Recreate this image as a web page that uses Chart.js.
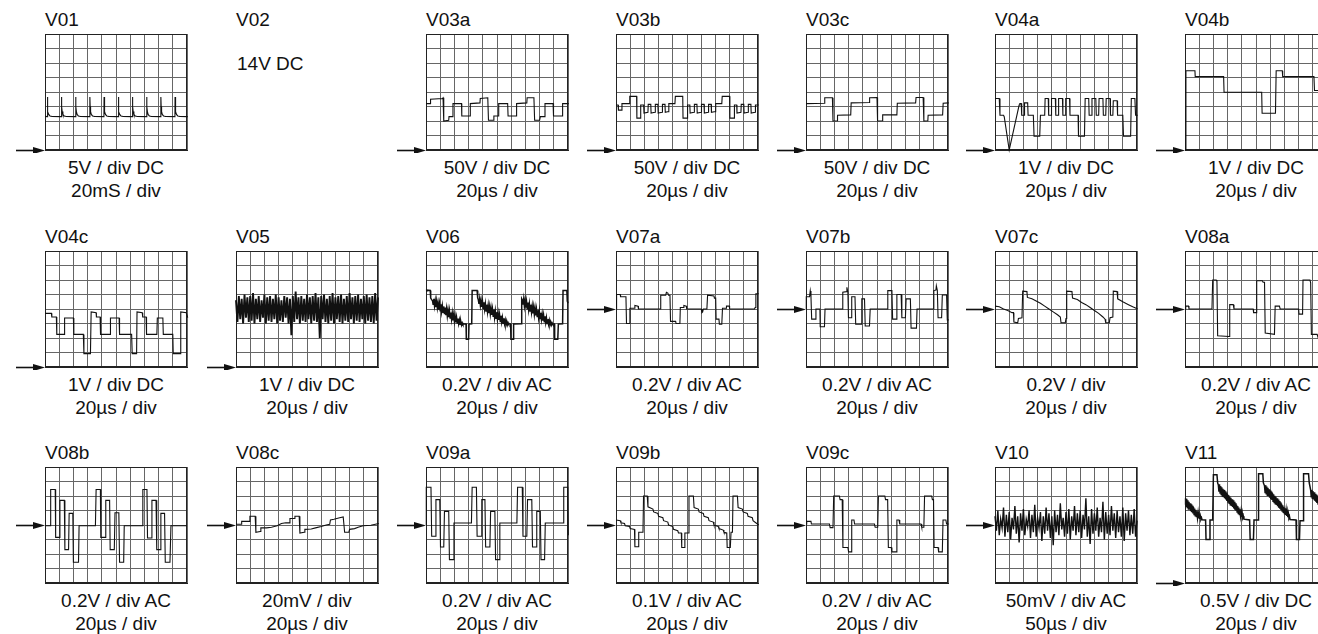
<!DOCTYPE html>
<html><head><meta charset="utf-8">
<script src="https://cdn.jsdelivr.net/npm/chart.js@4.4.1/dist/chart.umd.min.js"></script>
<style>
html,body{margin:0;padding:0;background:#fff}
body{width:1318px;height:634px;overflow:hidden;position:relative;font-family:"Liberation Sans",Arial,Helvetica,sans-serif;color:#111}
canvas{position:absolute}
.t{position:absolute;font-size:19px;line-height:19px;white-space:nowrap}
.c{position:absolute;font-size:19px;line-height:19px;white-space:nowrap;width:240px;text-align:center}
</style></head><body>
<script>
// ---------------- DATA (division units: x 0..10, y 0..8 from bottom) ----------------
const panelNames = ['V01','V02','V03a','V03b','V03c','V04a','V04b',
                    'V04c','V05','V06','V07a','V07b','V07c','V08a',
                    'V08b','V08c','V09a','V09b','V09c','V10','V11'];
const voltLabels = ['5V / div DC','14V DC','50V / div DC','50V / div DC','50V / div DC','1V / div DC','1V / div DC',
                    '1V / div DC','1V / div DC','0.2V / div AC','0.2V / div AC','0.2V / div AC','0.2V / div','0.2V / div AC',
                    '0.2V / div AC','20mV / div','0.2V / div AC','0.1V / div AC','0.2V / div AC','50mV / div AC','0.5V / div DC'];
const timeLabels = ['20mS / div','','20µs / div','20µs / div','20µs / div','20µs / div','20µs / div',
                    '20µs / div','20µs / div','20µs / div','20µs / div','20µs / div','20µs / div','20µs / div',
                    '20µs / div','20µs / div','20µs / div','20µs / div','20µs / div','50µs / div','20µs / div'];
// ground-arrow level in divisions (-1 = no arrow)
const groundLevels = [0,-1,0,0,0,0,0,
                      0,0,-1,4,4,4,4,
                      4,4,4,4,4,4,0];

const V01 = [[0,2.32],[0.15,2.3],[0.16,3.65],[0.18,3.0],[0.21,2.65],[0.26,2.45],[0.35,2.35],[0.5,2.31],
[1.15,2.3],[1.16,3.65],[1.18,3.0],[1.21,2.65],[1.26,2.45],[1.35,2.35],[1.5,2.31],
[2.15,2.3],[2.16,3.65],[2.18,3.0],[2.21,2.65],[2.26,2.45],[2.35,2.35],[2.5,2.31],
[3.15,2.3],[3.16,3.65],[3.18,3.0],[3.21,2.65],[3.26,2.45],[3.35,2.35],[3.5,2.31],
[4.15,2.3],[4.16,3.65],[4.18,3.0],[4.21,2.65],[4.26,2.45],[4.35,2.35],[4.5,2.31],
[5.15,2.3],[5.16,3.65],[5.18,3.0],[5.21,2.65],[5.26,2.45],[5.35,2.35],[5.5,2.31],
[6.15,2.3],[6.16,3.65],[6.18,3.0],[6.21,2.65],[6.26,2.45],[6.35,2.35],[6.5,2.31],
[7.15,2.3],[7.16,3.65],[7.18,3.0],[7.21,2.65],[7.26,2.45],[7.35,2.35],[7.5,2.31],
[8.15,2.3],[8.16,3.65],[8.18,3.0],[8.21,2.65],[8.26,2.45],[8.35,2.35],[8.5,2.31],
[9.15,2.3],[9.16,3.65],[9.18,3.0],[9.21,2.65],[9.26,2.45],[9.35,2.35],[9.5,2.31],
[10.05,2.3],[10.07,3.6]];

const V03a = [[0,3.2],[0.3,3.2],[0.32,3.5],[1.15,3.55],[1.2,3.6],[1.25,2.0],[1.6,2.05],[1.62,2.3],[1.88,2.3],[1.9,3.2],[2.5,3.2],[2.52,2.35],[3.1,2.35],[3.12,3.2],[3.8,3.25],[3.82,3.55],[4.35,3.6],[4.4,2.05],[4.75,2.05],[4.78,2.35],[5.1,2.35],[5.12,3.2],[5.75,3.2],[5.78,2.35],[6.35,2.35],[6.38,3.2],[7.1,3.25],[7.12,3.6],[7.6,3.6],[7.65,2.05],[8.0,2.05],[8.05,2.3],[8.35,2.3],[8.38,3.2],[8.95,3.2],[8.98,2.35],[9.6,2.35],[9.62,3.2],[10.05,3.2]];

const V03b = [[0,3.1],[0.15,3.1],[0.17,2.75],[0.4,2.75],[0.42,3.2],[0.95,3.2],[0.97,3.7],[1.45,3.7],[1.47,2.2],[1.72,2.2],[1.74,3.1],[1.95,3.1],[1.97,2.55],[2.25,2.6],[2.27,3.15],[2.45,3.15],[2.47,2.55],[2.75,2.6],[2.77,3.15],[2.95,3.15],[2.97,2.55],[3.25,2.6],[3.27,3.15],[3.45,3.15],[3.47,2.6],[3.7,2.65],[3.72,3.2],[4.15,3.2],[4.18,3.7],[4.7,3.7],[4.72,2.2],[5.02,2.2],[5.04,3.1],[5.2,3.1],[5.22,2.55],[5.5,2.6],[5.52,3.15],[5.7,3.15],[5.72,2.55],[6.0,2.6],[6.02,3.15],[6.2,3.15],[6.22,2.55],[6.5,2.6],[6.52,3.15],[6.7,3.15],[6.72,2.6],[7.0,2.65],[7.02,3.2],[7.45,3.2],[7.48,3.7],[8.0,3.7],[8.02,2.2],[8.32,2.2],[8.34,3.1],[8.5,3.1],[8.52,2.55],[8.8,2.6],[8.82,3.15],[9.0,3.15],[9.02,2.55],[9.3,2.6],[9.32,3.15],[9.5,3.15],[9.52,2.55],[9.8,2.6],[9.82,3.1],[10.05,3.1]];

const V03c = [[0,3.2],[1.3,3.22],[1.32,3.6],[1.86,3.6],[1.9,2.0],[2.2,2.02],[2.22,2.4],[3.15,2.42],[3.18,3.25],[4.45,3.28],[4.48,3.6],[5.0,3.62],[5.04,2.0],[5.38,2.02],[5.4,2.42],[6.4,2.42],[6.43,3.22],[7.72,3.25],[7.75,3.62],[8.25,3.62],[8.3,2.0],[8.58,2.02],[8.6,2.4],[9.62,2.42],[9.66,3.22],[10.05,3.25]];

const V04a = [[0,3.55],[0.3,3.55],[0.35,2.4],[0.6,2.4],[0.65,2.3],[1.0,0.0],[1.7,3.1],[1.75,3.2],[1.85,3.2],[1.88,2.4],[2.05,2.4],[2.08,3.25],[2.3,3.25],[2.33,2.4],[2.7,2.4],[2.75,0.95],[3.15,0.95],[3.2,2.4],[3.5,2.4],[3.53,3.55],[3.75,3.55],[3.78,2.4],[3.95,2.4],[3.98,3.55],[4.25,3.55],[4.28,2.4],[4.45,2.4],[4.48,3.55],[4.75,3.55],[4.78,2.4],[4.95,2.4],[4.98,3.55],[5.25,3.55],[5.28,2.4],[5.85,2.4],[5.88,0.95],[6.3,0.95],[6.35,3.55],[6.6,3.55],[6.63,2.4],[6.8,2.4],[6.83,3.55],[7.1,3.55],[7.13,2.4],[7.3,2.4],[7.33,3.55],[7.6,3.55],[7.63,2.4],[7.8,2.4],[7.83,3.55],[8.1,3.55],[8.13,2.4],[8.3,2.4],[8.33,3.4],[8.6,3.4],[8.63,2.4],[9.0,2.4],[9.05,0.95],[9.55,0.95],[9.6,3.55],[9.85,3.55],[9.9,2.4],[10.05,2.4]];

const V04b = [[0,0],[0.06,0],[0.07,5.47],[0.7,5.47],[0.72,5.06],[2.72,5.06],[2.75,3.98],[5.4,3.98],[5.43,2.53],[6.37,2.53],[6.42,5.47],[6.85,5.47],[6.88,5.06],[9.08,5.06],[9.12,4.1],[10,4.1]];

const V04c = [[0,3.7],[0.45,3.7],[0.48,3.45],[0.8,3.45],[0.83,2.25],[1.35,2.25],[1.38,3.38],[2.0,3.38],[2.03,2.25],[2.7,2.25],[2.74,0.92],[3.2,0.92],[3.25,3.8],[3.6,3.75],[3.62,3.45],[3.88,3.45],[3.91,2.25],[4.58,2.25],[4.61,3.38],[5.22,3.38],[5.25,2.25],[6.1,2.25],[6.14,0.92],[6.45,0.92],[6.48,3.8],[6.85,3.75],[6.88,3.45],[7.12,3.45],[7.15,2.25],[7.88,2.25],[7.91,3.38],[8.3,3.38],[8.33,2.25],[9.0,2.25],[9.03,0.92],[9.52,0.92],[9.56,3.8],[9.95,3.75],[10.05,3.4]];

// V05: noise band, one value per 0.1 division
const V05 = [4.6,3.1,4.9,3.3,4.7,3.0,5.0,3.4,4.8,3.1,
 4.9,3.2,5.1,3.0,4.7,3.3,4.9,3.1,4.6,3.4,
 5.0,3.0,4.8,3.2,4.9,3.1,4.7,3.3,5.0,3.0,
 4.8,3.2,4.6,3.1,4.9,3.4,4.8,3.0,4.7,2.2,
 4.9,3.1,5.2,3.3,4.8,3.0,4.9,3.2,4.7,3.1,
 5.0,3.3,4.8,3.0,4.9,3.2,5.1,3.1,4.8,2.0,
 4.9,3.3,5.0,3.1,4.7,3.0,4.9,3.2,5.1,3.0,
 4.8,3.3,4.9,3.1,5.0,3.0,4.7,3.2,4.9,3.1,
 5.1,3.3,4.8,3.0,4.9,3.2,5.0,3.1,4.7,3.3,
 4.9,3.0,5.0,3.2,4.8,3.1,4.9,3.0,5.1,3.2,4.8];

const V06 = [[0,5.25],[0.05,5.3],[0.3,5.28],[0.33,4.75],[0.43,4.6],
[0.45,4.62],[0.5,4.32],[0.55,4.7],[0.6,4.22],[0.65,4.58],[0.7,4.12],[0.75,4.55],[0.8,4.08],[0.85,4.42],[0.9,3.96],[0.95,4.38],[1.0,3.88],[1.05,4.33],[1.1,3.82],[1.15,4.22],[1.2,3.78],[1.25,4.18],[1.3,3.64],[1.35,4.1],[1.4,3.58],[1.45,4.02],[1.5,3.52],[1.55,3.93],[1.6,3.44],[1.65,3.88],[1.7,3.38],[1.75,3.76],[1.8,3.3],[1.85,3.72],[1.9,3.22],[1.95,3.6],[2.0,3.16],[2.05,3.52],[2.1,3.08],[2.15,3.44],[2.2,3.04],[2.25,3.34],[2.3,2.98],[2.35,3.25],[2.4,2.94],[2.45,3.14],[2.5,2.9],[2.55,3.05],[2.6,2.94],
[2.62,2.96],[2.82,2.96],[2.84,1.92],[3.0,1.92],[3.03,2.96],[3.22,2.98],[3.25,5.27],[3.6,5.27],[3.64,4.76],
[3.68,4.66],[3.73,4.35],[3.78,4.72],[3.83,4.25],[3.88,4.6],[3.93,4.14],[3.98,4.52],[4.03,4.04],[4.08,4.46],[4.13,3.98],[4.18,4.36],[4.23,3.86],[4.28,4.3],[4.33,3.8],[4.38,4.24],[4.43,3.72],[4.48,4.16],[4.53,3.66],[4.58,4.08],[4.63,3.6],[4.68,4.0],[4.73,3.5],[4.78,3.96],[4.83,3.42],[4.88,3.86],[4.93,3.36],[4.98,3.78],[5.03,3.3],[5.08,3.7],[5.13,3.24],[5.18,3.62],[5.23,3.14],[5.28,3.54],[5.33,3.1],[5.38,3.42],[5.43,3.02],[5.48,3.36],[5.53,2.98],[5.58,3.24],[5.63,2.92],[5.68,3.16],[5.73,2.9],[5.78,3.06],[5.83,2.95],
[5.87,2.96],[5.96,2.96],[5.98,1.92],[6.14,1.92],[6.17,2.96],[6.7,2.98],[6.74,4.7],
[6.78,4.62],[6.83,4.3],[6.88,4.7],[6.93,4.2],[6.98,4.6],[7.03,4.1],[7.08,4.52],[7.13,4.02],[7.18,4.44],[7.23,3.94],[7.28,4.36],[7.33,3.86],[7.38,4.3],[7.43,3.78],[7.48,4.2],[7.53,3.7],[7.58,4.14],[7.63,3.62],[7.68,4.06],[7.73,3.56],[7.78,3.98],[7.83,3.48],[7.88,3.92],[7.93,3.4],[7.98,3.84],[8.03,3.34],[8.08,3.74],[8.13,3.28],[8.18,3.66],[8.23,3.2],[8.28,3.58],[8.33,3.12],[8.38,3.5],[8.43,3.06],[8.48,3.4],[8.53,3.0],[8.58,3.3],[8.63,2.96],[8.68,3.22],[8.73,2.92],[8.78,3.12],[8.83,2.9],[8.88,3.04],[8.93,2.95],
[8.97,2.96],[9.04,2.96],[9.06,1.92],[9.28,1.92],[9.32,2.96],[9.62,2.98],[9.65,5.27],[9.92,5.27],[9.95,4.55],[10.0,4.4],[10.03,4.8],[10.05,4.3]];

const V07a = [[0,4.0],[0.04,5.0],[0.3,5.0],[0.32,4.85],[0.7,4.85],[0.74,3.0],[0.95,3.0],[0.98,4.05],[1.3,4.05],[1.33,4.25],[1.55,4.2],[1.58,4.0],[3.1,4.0],[3.15,4.95],[3.5,4.95],[3.55,5.15],[3.65,5.1],[3.7,4.95],[3.8,4.95],[3.84,3.15],[4.2,3.15],[4.23,3.0],[4.5,3.0],[4.53,4.1],[4.75,4.1],[4.78,4.25],[4.95,4.2],[4.98,4.0],[6.0,4.0],[6.05,3.75],[6.1,3.8],[6.15,4.0],[6.4,4.0],[6.45,4.95],[6.9,4.9],[6.93,4.75],[7.02,4.75],[7.05,3.3],[7.25,3.3],[7.28,2.95],[7.45,2.95],[7.5,4.05],[7.75,4.05],[7.78,4.2],[7.98,4.2],[8.0,4.0],[9.75,4.0],[9.8,4.1],[9.85,5.05],[10.05,5.05]];

const V07b = [[0,4.0],[0.02,4.85],[0.25,4.85],[0.3,5.25],[0.35,4.85],[0.4,3.3],[0.65,3.3],[0.7,4.0],[0.98,4.0],[1.0,2.78],[1.3,2.78],[1.34,4.0],[2.55,4.0],[2.59,5.15],[2.85,5.2],[2.88,5.5],[2.95,5.15],[2.99,3.4],[3.18,3.4],[3.22,4.85],[3.45,4.85],[3.5,2.95],[3.88,2.95],[3.93,4.7],[4.12,4.7],[4.17,2.83],[4.47,2.83],[4.52,4.0],[5.72,4.0],[5.76,5.27],[6.05,5.27],[6.1,3.3],[6.35,3.3],[6.4,5.0],[6.7,5.0],[6.75,3.4],[7.0,3.4],[7.05,4.7],[7.35,4.7],[7.4,2.68],[7.78,2.68],[7.82,4.0],[8.95,4.0],[9.0,5.27],[9.15,5.3],[9.18,5.6],[9.25,5.27],[9.3,3.4],[9.55,3.4],[9.6,4.97],[9.9,4.97],[9.95,3.25],[10.05,3.25]];

const V07c = [[0,4.2],[0.3,4.15],[0.6,4.0],[0.9,3.9],[1.2,3.75],[1.3,3.75],[1.33,3.1],[1.6,3.05],[1.65,3.35],[1.9,3.4],[1.95,5.23],[2.25,5.2],[2.28,4.8],[2.6,4.7],[2.9,4.55],[3.2,4.4],[3.5,4.2],[3.8,4.0],[4.1,3.8],[4.4,3.6],[4.6,3.45],[4.65,3.05],[4.95,3.05],[5.0,3.35],[5.05,5.23],[5.42,5.2],[5.46,4.76],[5.8,4.65],[6.1,4.45],[6.4,4.3],[6.7,4.1],[7.0,3.9],[7.3,3.7],[7.6,3.45],[7.75,3.3],[7.8,3.05],[8.05,3.05],[8.1,3.4],[8.3,3.45],[8.33,5.23],[8.6,5.2],[8.64,4.7],[9.0,4.5],[9.4,4.3],[9.7,4.15],[10.05,4.0]];

const V08a = [[0,4.0],[0.05,4.2],[0.25,4.2],[0.28,4.0],[1.9,4.0],[1.95,6.0],[2.2,6.0],[2.25,5.9],[2.3,2.15],[3.1,2.1],[3.15,4.3],[3.4,4.3],[3.45,4.0],[4.8,4.0],[4.83,3.75],[5.0,3.75],[5.05,5.95],[5.45,5.95],[5.5,5.85],[5.6,5.85],[5.65,2.35],[6.3,2.25],[6.35,4.2],[6.65,4.2],[6.7,4.0],[8.0,4.0],[8.03,3.65],[8.28,3.65],[8.31,6.0],[8.8,6.0],[8.85,5.8],[8.9,2.25],[9.3,2.25],[9.35,2.1],[10,2.1]];

const V08b = [[0,3.95],[0.37,3.95],[0.4,6.45],[0.72,6.45],[0.75,3.15],[1.02,3.15],[1.05,5.7],[1.36,5.7],[1.4,2.3],[1.66,2.3],[1.7,4.8],[1.96,4.8],[2.0,1.43],[2.36,1.43],[2.4,3.95],[3.55,3.95],[3.6,6.45],[3.9,6.45],[3.93,3.15],[4.25,3.15],[4.28,5.7],[4.55,5.7],[4.59,2.3],[4.88,2.3],[4.93,4.85],[5.2,4.85],[5.25,1.43],[5.54,1.43],[5.58,3.95],[6.85,3.95],[6.89,6.45],[7.18,6.45],[7.22,3.1],[7.5,3.1],[7.53,5.7],[7.82,5.7],[7.87,2.3],[8.12,2.3],[8.16,4.8],[8.42,4.8],[8.47,1.43],[8.8,1.43],[8.87,3.95],[10,3.95],[10.05,6.5]];

const V08c = [[0,4.05],[0.38,4.05],[0.4,4.25],[0.95,4.25],[0.98,4.6],[1.35,4.6],[1.4,3.5],[1.7,3.55],[1.75,3.8],[2.15,3.8],[2.5,3.85],[2.9,3.95],[3.2,4.1],[3.5,4.15],[3.75,4.15],[3.8,4.45],[4.1,4.45],[4.15,4.6],[4.45,4.6],[4.5,3.45],[4.8,3.5],[4.85,3.7],[5.3,3.72],[5.6,3.8],[6.0,3.9],[6.35,4.0],[6.6,4.05],[6.65,4.35],[6.9,4.4],[7.3,4.5],[7.55,4.55],[7.65,3.5],[7.95,3.5],[8.0,3.7],[8.35,3.75],[8.6,3.85],[8.95,3.95],[9.5,3.98],[10.05,4.1]];

const V09a = [[0,4.0],[0.02,6.6],[0.35,6.6],[0.4,3.22],[0.66,3.22],[0.7,5.75],[0.97,5.75],[1.02,2.48],[1.25,2.48],[1.3,4.94],[1.6,4.94],[1.65,1.61],[1.92,1.61],[1.97,4.14],[3.2,4.14],[3.25,6.6],[3.55,6.6],[3.6,3.22],[3.88,3.22],[3.93,5.75],[4.15,5.75],[4.2,2.48],[4.5,2.48],[4.55,4.94],[4.85,4.94],[4.9,1.61],[5.15,1.61],[5.2,4.14],[6.4,4.14],[6.45,6.6],[6.78,6.6],[6.83,3.22],[7.1,3.22],[7.15,5.75],[7.45,5.75],[7.5,2.48],[7.75,2.48],[7.8,4.94],[8.05,4.94],[8.1,1.61],[8.35,1.61],[8.4,4.14],[9.65,4.14],[9.7,6.6],[9.98,6.6],[10.02,3.3]];

const V09b = [[0,4.35],[0.3,4.3],[0.35,4.15],[0.6,4.1],[0.65,3.95],[0.95,3.9],[1.0,3.75],[1.3,3.7],[1.33,2.5],[1.55,2.5],[1.6,3.5],[1.9,3.5],[1.94,6.0],[2.2,6.0],[2.25,5.25],[2.6,5.1],[2.65,4.9],[2.95,4.8],[3.0,4.6],[3.3,4.5],[3.35,4.3],[3.65,4.2],[3.7,4.0],[4.0,3.9],[4.05,3.7],[4.35,3.6],[4.4,3.45],[4.6,3.45],[4.63,2.45],[4.8,2.45],[4.85,3.45],[5.1,3.45],[5.14,6.0],[5.45,6.0],[5.5,5.2],[5.8,5.1],[5.85,4.9],[6.15,4.8],[6.2,4.6],[6.5,4.5],[6.55,4.3],[6.85,4.2],[6.9,4.0],[7.2,3.9],[7.25,3.75],[7.55,3.65],[7.6,3.5],[7.8,3.45],[7.83,2.45],[8.05,2.45],[8.1,3.5],[8.2,3.5],[8.24,6.0],[8.55,6.0],[8.6,5.2],[8.9,5.1],[8.95,4.9],[9.25,4.8],[9.3,4.6],[9.6,4.5],[9.65,4.3],[10.05,4.0]];

const V09c = [[0,4.07],[0.05,4.25],[0.35,4.25],[0.38,4.07],[1.65,4.07],[1.7,3.82],[1.9,3.82],[1.95,6.0],[2.35,6.0],[2.4,5.75],[2.55,5.75],[2.6,2.45],[2.95,2.45],[3.0,2.15],[3.18,2.15],[3.22,4.35],[3.38,4.35],[3.42,4.07],[4.82,4.07],[4.87,3.84],[5.05,3.84],[5.1,6.0],[5.55,6.0],[5.6,5.75],[5.75,5.75],[5.8,2.45],[6.0,2.45],[6.05,2.15],[6.35,2.15],[6.4,4.35],[6.55,4.35],[6.6,4.07],[8.1,4.07],[8.15,3.84],[8.3,3.84],[8.35,6.0],[8.85,6.0],[8.9,5.75],[8.98,5.75],[9.02,2.45],[9.3,2.45],[9.34,2.15],[9.6,2.15],[9.65,4.35],[9.85,4.35],[9.9,4.07],[10.05,4.07]];

// V10: noise, one value per 0.1 division
const V10 = [4.6,3.6,5.0,3.3,4.4,3.8,5.2,3.2,4.7,3.5,
 4.9,3.0,4.5,3.7,5.3,3.4,4.6,2.8,4.8,3.6,
 5.1,3.3,4.4,3.9,5.0,3.1,4.7,3.5,5.4,3.2,
 4.5,3.8,4.9,2.9,4.6,3.4,5.2,3.6,4.8,3.1,
 4.6,2.6,5.0,3.5,4.7,3.3,5.5,3.7,4.5,3.2,
 4.9,3.4,5.1,3.0,4.6,3.6,5.3,3.3,4.8,3.5,
 5.0,3.1,4.7,3.7,5.85,3.2,4.6,2.7,5.1,3.4,
 4.8,3.6,5.2,3.2,4.5,3.5,5.6,3.0,4.9,3.4,
 4.7,3.3,5.3,3.6,4.8,3.1,5.0,3.5,4.6,3.2,
 5.2,2.9,4.8,3.6,5.0,3.3,4.7,3.4,5.1,3.2,4.3];

const V11 = [[0,5.4],[0.04,5.85],[0.08,5.3],[0.12,5.8],[0.16,5.2],[0.2,5.7],[0.24,5.1],[0.28,5.6],[0.32,5.05],[0.36,5.5],[0.4,4.95],[0.44,5.42],[0.48,4.88],[0.52,5.32],[0.56,4.8],[0.6,5.24],[0.64,4.72],[0.68,5.14],[0.72,4.64],[0.76,5.04],[0.8,4.58],[0.84,4.94],[0.88,4.5],[0.92,4.84],[0.96,4.46],[1.0,4.74],[1.04,4.42],[1.08,4.62],[1.12,4.4],[1.16,4.5],[1.2,4.36],
[1.45,4.35],[1.48,3.0],[1.72,3.0],[1.76,4.35],[1.95,4.35],[2.0,7.47],[2.25,7.47],[2.3,6.9],
[2.35,6.75],[2.39,6.3],[2.43,6.8],[2.47,6.2],[2.51,6.68],[2.55,6.1],[2.59,6.6],[2.63,6.0],[2.67,6.5],[2.71,5.92],[2.75,6.42],[2.79,5.84],[2.83,6.32],[2.87,5.76],[2.91,6.24],[2.95,5.66],[2.99,6.14],[3.03,5.58],[3.07,6.06],[3.11,5.5],[3.15,5.96],[3.19,5.4],[3.23,5.88],[3.27,5.32],[3.31,5.78],[3.35,5.24],[3.39,5.7],[3.43,5.14],[3.47,5.6],[3.51,5.06],[3.55,5.5],[3.59,4.98],[3.63,5.4],[3.67,4.9],[3.71,5.3],[3.75,4.8],[3.79,5.2],[3.83,4.72],[3.87,5.08],[3.91,4.64],[3.95,4.96],[3.99,4.56],[4.03,4.82],[4.07,4.5],[4.11,4.6],
[4.15,4.4],[4.55,4.35],[4.59,3.0],[4.82,3.0],[4.86,4.35],[5.15,4.35],[5.18,7.54],[5.48,7.54],[5.52,6.9],
[5.6,6.7],[5.64,6.25],[5.68,6.75],[5.72,6.15],[5.76,6.66],[5.8,6.06],[5.84,6.56],[5.88,5.98],[5.92,6.46],[5.96,5.88],[6.0,6.38],[6.04,5.8],[6.08,6.3],[6.12,5.72],[6.16,6.2],[6.2,5.64],[6.24,6.12],[6.28,5.56],[6.32,6.02],[6.36,5.46],[6.4,5.94],[6.44,5.38],[6.48,5.84],[6.52,5.3],[6.56,5.76],[6.6,5.2],[6.64,5.66],[6.68,5.12],[6.72,5.56],[6.76,5.04],[6.8,5.46],[6.84,4.96],[6.88,5.36],[6.92,4.88],[6.96,5.26],[7.0,4.8],[7.04,5.16],[7.08,4.7],[7.12,5.04],[7.16,4.62],[7.2,4.92],[7.24,4.54],[7.28,4.78],[7.32,4.48],[7.36,4.58],
[7.4,4.38],[7.82,4.35],[7.85,3.0],[8.06,3.0],[8.1,4.3],[8.32,4.3],[8.35,7.54],[8.7,7.54],[8.75,6.9],
[8.85,6.4],[8.89,5.95],[8.93,6.42],[8.97,5.85],[9.01,6.34],[9.05,5.76],[9.09,6.26],[9.13,5.68],[9.17,6.16],[9.21,5.6],[9.25,6.08],[9.29,5.52],[9.33,5.98],[9.37,5.44],[9.41,5.9],[9.45,5.36],[9.5,5.8],[9.55,5.3],[9.6,5.7]];

const traces = [V01,null,V03a,V03b,V03c,V04a,V04b,
                V04c,V05,V06,V07a,V07b,V07c,V08a,
                V08b,V08c,V09a,V09b,V09c,V10,V11];
const noisy = [false,false,false,false,false,false,false,
               false,true,false,false,false,false,false,
               false,false,false,false,false,true,false];

// ---------------- LAYOUT & STYLE ----------------
const colX = [45,236,426,616,806,995,1185];
const rowY = [34,251,467];
const PW = 142, PH = 116;
const PAD = {left:34, right:6, top:3, bottom:3};
const traceWidths = [1.1,1,1.1,1.1,1.1,1.1,1.1,
                     1.1,1.9,1.5,1.1,1.1,1.1,1.1,
                     1.1,1.1,1.1,1.1,1.1,1.4,1.5];

const groundArrow = {
  id: 'groundArrow',
  beforeDatasetsDraw(chart) {
    const a = chart.chartArea, ctx = chart.ctx;
    ctx.save();
    ctx.strokeStyle = '#222'; ctx.lineWidth = 1;
    ctx.strokeRect(a.left + 0.5, a.top + 0.5, a.right - a.left - 1, a.bottom - a.top - 1);
    ctx.restore();
  },
  afterDraw(chart, args, opts) {
    if (opts.level < 0) return;
    const ctx = chart.ctx, a = chart.chartArea;
    const y = Math.round(chart.scales.y.getPixelForValue(opts.level)) + 0.5;
    const x1 = a.left;
    ctx.save();
    ctx.strokeStyle = '#111'; ctx.fillStyle = '#111'; ctx.lineWidth = 1.6;
    ctx.beginPath(); ctx.moveTo(x1 - 29, y); ctx.lineTo(x1 - 9, y); ctx.stroke();
    ctx.beginPath(); ctx.moveTo(x1, y); ctx.lineTo(x1 - 12, y - 3.6); ctx.lineTo(x1 - 12, y + 3.6); ctx.closePath(); ctx.fill();
    ctx.restore();
  }
};

function addText(cls, txt, left, top) {
  const d = document.createElement('div');
  d.className = cls; d.textContent = txt;
  d.style.left = left + 'px'; d.style.top = top + 'px';
  document.body.appendChild(d);
}

panelNames.forEach((name, i) => {
  const r = Math.floor(i / 7), c = i % 7;
  const px = colX[c], py = rowY[r];
  addText('t', name, px, py - 24);
  if (!traces[i]) {
    addText('t', voltLabels[i], px + 1, py + 20);
    return;
  }
  addText('c', voltLabels[i], px + PW / 2 - 120, py + PH + 8);
  addText('c', timeLabels[i], px + PW / 2 - 120, py + PH + 31);

  const cv = document.createElement('canvas');
  cv.width = PW + PAD.left + PAD.right;
  cv.height = PH + PAD.top + PAD.bottom;
  cv.style.left = (px - PAD.left) + 'px';
  cv.style.top = (py - PAD.top) + 'px';
  document.body.appendChild(cv);

  const pts = noisy[i]
    ? traces[i].map((v, k) => ({x: k / 10, y: v}))
    : traces[i].map(p => ({x: p[0], y: p[1]}));

  const axis = (max) => ({
    type: 'linear', min: 0, max: max,
    ticks: {display: false, stepSize: 1},
    grid: {color: '#666', lineWidth: 1, drawTicks: false},
    border: {display: true, color: '#222'}
  });

  new Chart(cv, {
    type: 'line',
    data: {datasets: [{
      data: pts, borderColor: '#111', borderWidth: traceWidths[i],
      pointRadius: 0, tension: 0, fill: false, clip: 4
    }]},
    options: {
      responsive: false, animation: false, devicePixelRatio: 1,
      layout: {padding: PAD},
      events: [],
      plugins: {legend: {display: false}, tooltip: {enabled: false},
                groundArrow: {level: groundLevels[i]}},
      scales: {x: axis(10), y: axis(8)}
    },
    plugins: [groundArrow]
  });
});
</script>
</body></html>
